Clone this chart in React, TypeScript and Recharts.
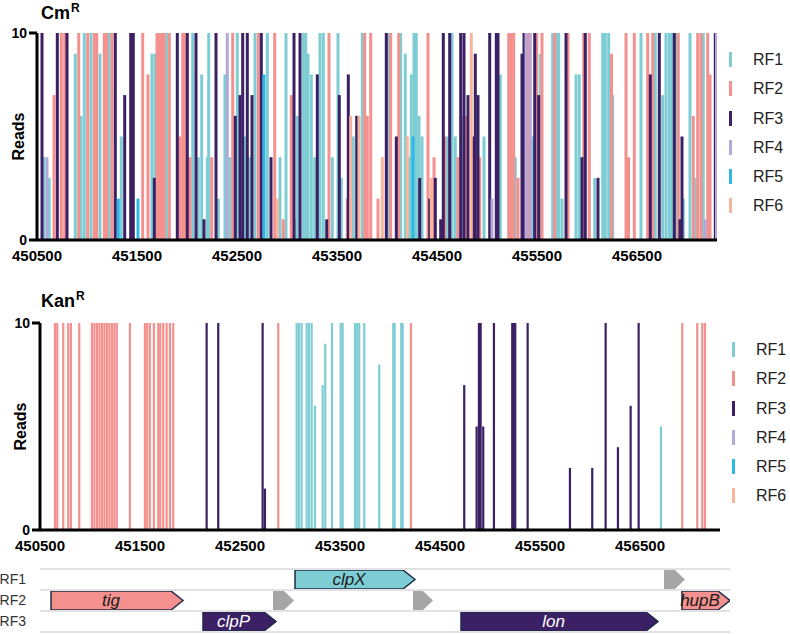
import React from 'react';
import { ComposedChart, Bar, XAxis, YAxis, Legend, ReferenceLine } from 'recharts';

const FONT = "'Liberation Sans', Arial, Helvetica, sans-serif";
const NARROW = "'Liberation Sans Narrow', 'Liberation Sans', Arial, sans-serif";

const frameNames = ['RF1', 'RF2', 'RF3', 'RF4', 'RF5', 'RF6'];
const frameColors = ['#7FCDD4', '#F4918E', '#3B2065', '#B4A8D9', '#2CB9E6', '#F8B59B'];
const positionTicks = [450500, 451500, 452500, 453500, 454500, 455500, 456500];
const positionDomain = [450500, 457300];
const readTicks = [0, 10];

type Pt = [number, number];

// Cm^R reads: [genome position, reads]
const cmRF1: Pt[] = [
  [450570, 4], [450623, 3], [450883, 9], [450940, 6], [450973, 10], [451040, 10], [451130, 9], [451223, 10], [451343, 5], [451650, 9],
  [451680, 9], [451797, 10], [452057, 10], [452113, 4], [452147, 8], [452203, 4], [452217, 10], [452313, 2], [452380, 8], [452430, 4], [452503, 10], [452580, 5], [452630, 4], [452680, 10], [452803, 10],
  [452930, 4], [452990, 10], [453087, 1], [453103, 6], [453163, 10], [453187, 10], [453210, 9], [453243, 8], [453277, 4], [453330, 10], [453363, 10], [453453, 4], [453510, 10], [453543, 3], [453663, 5], [453753, 10],
  [454017, 10], [454137, 10], [454183, 9], [454227, 4], [454243, 8], [454270, 10], [454293, 10], [454320, 6], [454350, 5], [454603, 5], [454650, 10], [454683, 5], [454760, 6], [454970, 5],
  [455133, 8], [455283, 4], [455457, 5], [455533, 9], [455657, 10], [455700, 10], [455717, 10], [455750, 2], [455890, 8], [455923, 8], [456077, 3], [456157, 10], [456183, 10], [456217, 10],
  [456257, 7], [456540, 10], [456683, 10], [456757, 7], [456790, 10], [456823, 10], [456850, 10], [456890, 10], [456963, 2], [457030, 10], [457083, 3], [457163, 10],
];
const cmRF2: Pt[] = [
  [450670, 7], [450743, 10], [450777, 10], [450917, 10], [451007, 10], [451073, 10], [451097, 10], [451173, 10], [451197, 10], [451250, 10], [451557, 10], [451610, 8],
  [451700, 10], [451725, 10], [451747, 10], [451770, 10], [451823, 10], [451930, 5], [451957, 10], [451980, 10], [452030, 4], [452247, 4], [452457, 10], [452713, 10],
  [452877, 10], [452963, 1], [453043, 7], [453420, 10], [453603, 2], [453777, 10], [453803, 6], [453837, 10], [453910, 2],
  [454037, 10], [454117, 10], [454410, 10], [454470, 4], [454577, 5], [454710, 4], [454793, 6], [454927, 4],
  [455217, 10], [455243, 10], [455267, 10], [455310, 3], [455410, 10], [455497, 10], [455550, 10], [455677, 10], [455810, 10], [455967, 10], [456023, 10],
  [456245, 9], [456390, 10], [456415, 4], [456473, 10], [456607, 10], [456657, 10], [456913, 10], [457063, 6], [457107, 10], [457140, 10], [457207, 10], [457230, 8],
];
const cmRF3: Pt[] = [
  [450550, 10], [450703, 10], [450800, 10], [451283, 10], [451377, 7], [451437, 10], [451463, 10], [451673, 3],
  [451903, 10], [452003, 10], [452090, 10], [452170, 1], [452290, 10], [452483, 6], [452530, 7], [452557, 10], [452603, 10], [452650, 7], [452743, 10],
  [452840, 4], [453070, 10], [453130, 10], [453303, 8], [453397, 1], [453523, 7], [453613, 8], [453697, 6],
  [453993, 10], [454093, 5], [454327, 3], [454427, 2], [454483, 3], [454537, 1], [454563, 10], [454627, 10], [454737, 10], [454770, 10], [454810, 7], [454860, 5], [454883, 9], [454910, 7], [455027, 10], [455093, 10],
  [455110, 10], [455350, 9], [455370, 10], [455477, 10], [455517, 7], [455790, 10], [455950, 4], [455983, 10], [456110, 3],
  [456633, 8], [456723, 10], [456873, 10], [456930, 1], [456950, 5], [457283, 10],
];
const cmRF4: Pt[] = [[450600, 4], [452403, 10], [455050, 2], [455390, 10], [455433, 10], [457183, 1], [457295, 10]];
const cmRF5: Pt[] = [[451313, 2], [451510, 2], [452770, 8], [454260, 5]];
const cmRF6: Pt[] = [[452903, 2], [453637, 6], [453720, 6], [453953, 4], [454203, 5], [454443, 3], [454843, 10]];

// Kan^R reads: [genome position, reads]
const kanRF1: Pt[] = [
  [453067, 10], [453090, 10], [453117, 10], [453167, 10], [453190, 10], [453217, 10], [453250, 6], [453327, 7], [453353, 9], [453420, 10],
  [453507, 10], [453527, 10], [453650, 10], [453673, 10], [453693, 10], [453743, 10], [453893, 8], [454033, 10], [454047, 10], [454113, 10], [454127, 10], [456710, 5],
];
const kanRF2: Pt[] = [
  [450650, 10], [450673, 10], [450733, 10], [450783, 10], [450810, 10], [450893, 10], [451020, 10], [451045, 10], [451070, 10], [451095, 10],
  [451120, 10], [451145, 10], [451170, 10], [451195, 10], [451220, 10], [451245, 10], [451268, 10],
  [451400, 10], [451550, 10], [451573, 10], [451600, 10], [451640, 10], [451683, 10], [451703, 10], [451733, 10], [451767, 10], [451800, 10], [451833, 10],
  [452883, 10], [454210, 10], [456923, 10], [457073, 10], [457123, 10], [457150, 10],
];
const kanRF3: Pt[] = [
  [452167, 10], [452283, 10], [452727, 10], [452750, 2], [454743, 7], [454867, 5], [454890, 10], [454907, 10], [454933, 5], [455040, 10],
  [455223, 10], [455237, 10], [455253, 10], [455377, 10], [455800, 3], [456023, 3], [456157, 10], [456280, 4], [456407, 6], [456487, 10],
];
const kanRF4: Pt[] = [];
const kanRF5: Pt[] = [];
const kanRF6: Pt[] = [];

// Gene map
const rowLabels = ['RF1', 'RF2', 'RF3'];
const rowTicks = [1, 2, 3];
const rowBoundaries = [0.5, 1.5, 2.5, 3.5];
const mapDomain = [450500, 457400];
const geneLabels = ['clpX', '', 'tig', '', '', 'hupB', 'clpP', 'lon'];
const geneRows = [1, 1, 2, 2, 2, 2, 3, 3];
const geneStarts = [453050, 456740, 450610, 452830, 454230, 456920, 452130, 454710];
const geneEnds = [454250, 456950, 451930, 453040, 454430, 457400, 452860, 456680];

const buildRows = (series: Pt[][]) => {
  const rows: any[] = [];
  series.forEach((pts, i) => pts.forEach(([pos, reads]) => rows.push({ pos, [`rf${i + 1}`]: reads })));
  rows.sort((a, b) => a.pos - b.pos);
  return rows;
};

const cmData = buildRows([cmRF1, cmRF2, cmRF3, cmRF4, cmRF5, cmRF6]);
const kanData = buildRows([kanRF1, kanRF2, kanRF3, kanRF4, kanRF5, kanRF6]);
const geneData = geneLabels.map((label, i) => ({ label, row: geneRows[i], span: [geneStarts[i], geneEnds[i]] }));

const thinBar = (w: number) => (p: any) => {
  const { x, y, width, height, fill } = p;
  if (x == null || y == null || !height || height <= 0) return <g />;
  const cx = x + (width || 0) / 2;
  return <rect x={cx - w / 2} y={y} width={w} height={height} fill={fill} />;
};

const renderLegend = (props: any) => {
  const items = props.payload || [];
  return (
    <div style={{ fontFamily: FONT }}>
      {items.map((e: any) => (
        <div key={e.value} style={{ position: 'relative', height: 29.3 }}>
          <span style={{ position: 'absolute', left: 12, top: 7, width: 3, height: 15, background: e.color }} />
          <span style={{ position: 'absolute', left: 36, top: 0, fontSize: 16, lineHeight: '29px', color: '#222' }}>{e.value}</span>
        </div>
      ))}
    </div>
  );
};

const axisStyle = { stroke: '#000', strokeWidth: 3 };
const xTickText = { fill: '#000', fontSize: 15, fontWeight: 700, fontFamily: FONT };
const yTickText = { fill: '#000', fontSize: 14, fontWeight: 700, fontFamily: FONT };

function ReadsChart({ data, axisWidth, marginRight, legendLeft, barWidth }: any) {
  return (
    <ComposedChart width={790} height={270} data={data} margin={{ top: 33, right: marginRight, bottom: 0, left: 0 }}>
      <XAxis
        dataKey="pos"
        type="number"
        domain={positionDomain}
        allowDataOverflow
        ticks={positionTicks}
        interval={0}
        tickLine={false}
        tickSize={0}
        tickMargin={10}
        height={30}
        axisLine={axisStyle}
        tick={xTickText}
      />
      <YAxis
        type="number"
        domain={[0, 10]}
        ticks={readTicks}
        interval={0}
        width={axisWidth}
        tickSize={8}
        tickMargin={2}
        axisLine={axisStyle}
        tickLine={axisStyle}
        tick={yTickText}
        label={{ value: 'Reads', angle: -90, position: 'center', fill: '#000', fontSize: 16, fontWeight: 700, fontFamily: FONT }}
      />
      <Legend layout="vertical" align="right" verticalAlign="top" width={70} wrapperStyle={{ left: legendLeft, top: 45 }} content={renderLegend} />
      {frameNames.map((n, i) => (
        <Bar key={n} dataKey={`rf${i + 1}`} name={n} stackId="reads" fill={frameColors[i]} isAnimationActive={false} shape={thinBar(barWidth)} />
      ))}
    </ComposedChart>
  );
}

const GeneArrow = (p: any) => {
  const { x, y, width, height, payload } = p;
  if (x == null || y == null || !width) return <g />;
  const named = payload.label !== '';
  const h = 19;
  const cy = y + height / 2;
  const top = cy - h / 2;
  const tip = named ? Math.min(12, width / 2) : Math.min(10, width / 2);
  const d = `M${x},${top} L${x + width - tip},${top} L${x + width},${cy} L${x + width - tip},${top + h} L${x},${top + h} Z`;
  const fill = named ? frameColors[payload.row - 1] : '#A6A6A6';
  const textFill = payload.row === 3 ? '#fff' : '#1a1a1a';
  return (
    <g>
      <path d={d} fill={fill} stroke={named ? '#1F2A48' : 'none'} strokeWidth={1.5} />
      {named && (
        <text x={x + (width - tip) / 2} y={cy} dy="0.35em" textAnchor="middle" fontStyle="italic" fontSize={17} fontFamily={NARROW} fill={textFill}>
          {payload.label}
        </text>
      )}
    </g>
  );
};

function GeneMap() {
  return (
    <ComposedChart layout="vertical" width={790} height={74} data={geneData} margin={{ top: 9, right: 60, bottom: 2, left: 0 }}>
      <XAxis type="number" domain={mapDomain} allowDataOverflow hide />
      <YAxis
        type="number"
        dataKey="row"
        domain={[0.5, 3.5]}
        ticks={rowTicks}
        interval={0}
        tickFormatter={(v: number) => rowLabels[v - 1]}
        width={40}
        axisLine={false}
        tickLine={false}
        tickSize={0}
        tickMargin={14}
        tick={{ fill: '#333', fontSize: 14, fontFamily: FONT }}
      />
      {rowBoundaries.map((b) => (
        <ReferenceLine key={b} y={b} stroke="#E2E2E2" strokeWidth={2} />
      ))}
      <Bar dataKey="span" barSize={19} fill="#A6A6A6" shape={GeneArrow} isAnimationActive={false} />
    </ComposedChart>
  );
}

function Title({ text, top }: { text: string; top: number }) {
  return (
    <div style={{ position: 'absolute', left: 41, top, fontFamily: FONT, fontWeight: 700, fontSize: 18, lineHeight: '18px', color: '#000' }}>
      {text}
      <span style={{ fontSize: 12, position: 'relative', top: -7, marginLeft: 1 }}>R</span>
    </div>
  );
}

export default function App() {
  return (
    <div style={{ position: 'absolute', left: 0, top: 0, width: 790, height: 634, background: '#fff', overflow: 'hidden', fontFamily: FONT }}>
      <div style={{ position: 'absolute', left: 0, top: 0 }}>
        <ReadsChart data={cmData} axisWidth={37} marginRight={3} legendLeft={717} barWidth={3} />
      </div>
      <Title text="Cm" top={4} />
      <div style={{ position: 'absolute', left: 0, top: 290 }}>
        <ReadsChart data={kanData} axisWidth={40} marginRight={0} legendLeft={720} barWidth={2.2} />
      </div>
      <Title text="Kan" top={292} />
      <div style={{ position: 'absolute', left: 0, top: 560 }}>
        <GeneMap />
      </div>
    </div>
  );
}
